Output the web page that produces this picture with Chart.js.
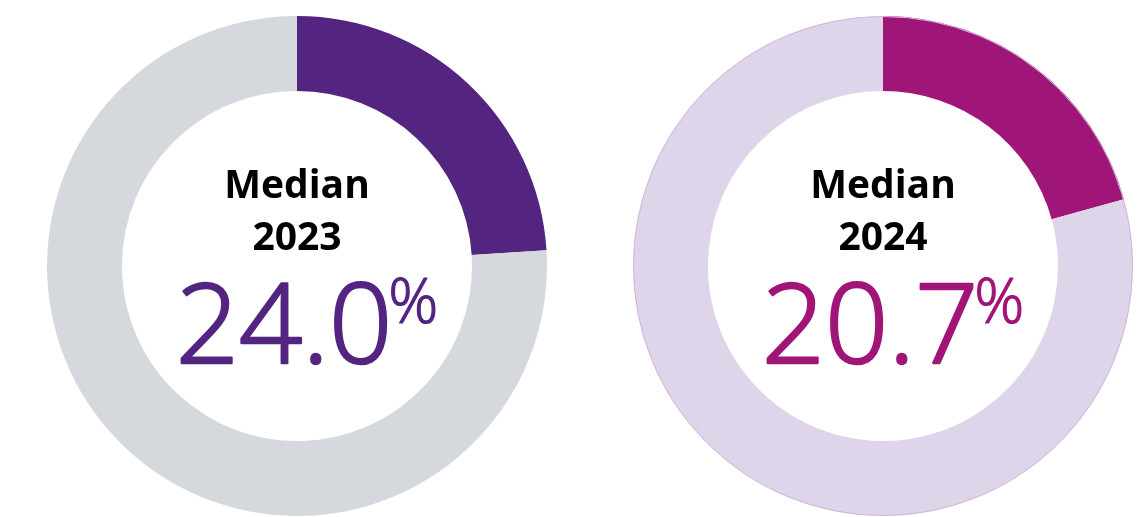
<!DOCTYPE html>
<html>
<head>
<meta charset="utf-8">
<script src="https://cdn.jsdelivr.net/npm/chart.js@4.4.1/dist/chart.umd.min.js"></script>
<style>
    html, body { margin: 0; padding: 0; background: #fff; }
    body { width: 1143px; height: 517px; position: relative; overflow: hidden; }
    .ring { position: absolute; top: 16px; width: 500px; height: 500px; }
    #ring1 { left: 47px; }
    #ring2 { left: 633px; }
</style>
</head>
<body>
<div class="ring" id="ring1"><canvas id="median2023"></canvas></div>
<div class="ring" id="ring2"><canvas id="median2024"></canvas></div>
<script>
// 연도별 중앙값 (%)
const years = ['2023', '2024'];
const medians = [24.0, 20.7];
const mainColors = ['#532581', '#a01578'];
const trackColors = ['#d5d8dd', '#dfd5eb'];
const outlineColors = [null, '#d3b6da'];
const textColors = ['#532581', '#a01578'];

// 바깥 테두리 + 가운데 글자
const centerText = {
    id: 'centerText',
    afterDatasetsDraw(chart, args, opts) {
        if (!opts.outline) return;
        const arc = chart.getDatasetMeta(0).data[0];
        const ctx = chart.ctx;
        ctx.save();
        ctx.strokeStyle = opts.outline;
        ctx.lineWidth = 1;
        ctx.beginPath();
        ctx.arc(arc.x, arc.y, arc.outerRadius - 0.5, 0, Math.PI * 2);
        ctx.stroke();
        ctx.restore();
    },
    afterDraw(chart, args, opts) {
        const ctx = chart.ctx;
        const arc = chart.getDatasetMeta(0).data[0];
        const cx = arc.x;
        const cy = arc.y;
        ctx.save();
        ctx.fillStyle = '#000';
        ctx.textAlign = 'center';
        ctx.textBaseline = 'alphabetic';
        ctx.font = 'bold 39px "Open Sans"';
        ctx.fillText('Median', cx, cy - 68);
        ctx.fillText(opts.year, cx, cy - 16);

        // 숫자는 light 글꼴에 얇은 외곽선을 더해 semilight 느낌
        const num = opts.value.toFixed(1);
        ctx.font = '300 111px "Open Sans"';
        const w1 = ctx.measureText(num).width;
        ctx.font = '300 62px "Open Sans"';
        const w2 = ctx.measureText('%').width;
        const left = cx + 12 - (w1 + w2) / 2;
        ctx.textAlign = 'left';
        ctx.fillStyle = opts.color;
        ctx.strokeStyle = opts.color;
        ctx.lineJoin = 'round';
        ctx.font = '300 111px "Open Sans"';
        ctx.lineWidth = 2.5;
        ctx.fillText(num, left, cy + 97);
        ctx.strokeText(num, left, cy + 97);
        ctx.font = '300 62px "Open Sans"';
        ctx.lineWidth = 1.2;
        ctx.fillText('%', left + w1 - 4, cy + 57);
        ctx.strokeText('%', left + w1 - 4, cy + 57);
        ctx.restore();
    }
};

function makeRing(id, i) {
    const ctx = document.getElementById(id).getContext('2d');
    return new Chart(ctx, {
        type: 'doughnut',
        data: {
            labels: ['Median', 'Rest'],
            datasets: [{
                data: [medians[i], 100 - medians[i]],
                backgroundColor: [mainColors[i], trackColors[i]],
                borderWidth: 0,
                hoverOffset: 0
            }]
        },
        options: {
            responsive: true,
            maintainAspectRatio: false,
            animation: false,
            cutout: '70%',
            layout: { padding: 0 },
            plugins: {
                legend: { display: false },
                tooltip: { enabled: false },
                centerText: {
                    year: years[i],
                    value: medians[i],
                    color: textColors[i],
                    outline: outlineColors[i]
                }
            }
        },
        plugins: [centerText]
    });
}

var chart1 = makeRing('median2023', 0);
var chart2 = makeRing('median2024', 1);
</script>
</body>
</html>
